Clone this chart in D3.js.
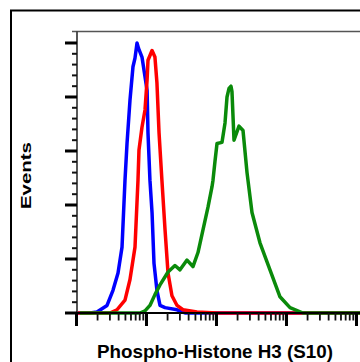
<!DOCTYPE html>
<html><head><meta charset="utf-8">
<script src="https://cdn.jsdelivr.net/npm/d3@7"></script>
<style>body{margin:0;background:#fff}svg{display:block}</style>
</head><body>
<script>
// Histogram data: [fluorescence intensity, events]
const isotypeBlue = [[1.0,0],[1.56,0],[1.96,1],[2.73,7],[3.32,21],[3.92,37],[4.47,61],[4.93,123],[5.27,157],[5.81,197],[6.41,228],[6.85,236],[7.32,250],[7.7,245],[8.62,237],[10.2,206],[10.5,167],[11.2,123],[12.0,93],[12.8,46],[14.1,21],[15.6,7],[18.4,5],[27.3,3],[35.5,0],[100000,0]];
const unstainedRed = [[1.0,0],[3.0,0],[3.79,3],[4.93,12],[5.81,31],[6.85,61],[7.56,123],[7.81,151],[8.62,172],[9.52,188],[10.2,216],[10.5,234],[12.0,243],[13.2,237],[14.1,213],[15.1,167],[16.6,123],[18.4,77],[20.3,37],[23.1,16],[27.3,7],[33.2,3],[52.6,1],[101.7,0],[100000,0]];
const stainedGreen = [[1.12,0],[8.07,0],[9.52,2],[11.2,7],[13.2,17],[15.6,26],[20.3,38],[25.5,44],[30.1,40],[37.9,49],[46.1,43],[54.4,56],[64.1,77],[75.6,98],[86.3,117],[89.1,123],[95,140],[101.7,157],[119.9,158],[132.3,176],[141.3,200],[151,208],[161.1,210],[166.4,205],[177.8,160],[209.6,173],[239.2,169],[272.9,130],[321.4,93],[417.9,65],[580.8,40],[807,15],[1122,5],[1721,0],[100000,0]];
const yMajorTicks = [0,50,100,150,200,250];
const yMinorTicks = d3.range(0,260,10).filter(v => v % 50 !== 0);
const xMajorTicks = [1,10,100,1000,10000,100000];
const xMinorTicks = [];
[1,10,100,1000,10000].forEach(d => { for (let k=2;k<=9;k++) xMinorTicks.push(d*k); });
const xLabel = "Phospho-Histone H3 (S10)";
const yLabel = "Events";

const W = 360, H = 362;
const svg = d3.select("body").append("svg").attr("width", W).attr("height", H);

const x = d3.scaleLog().domain([1, 100000]).range([76.5, 426.5]);
const y = d3.scaleLinear().domain([0, 261.1]).range([313, 31]);

// outer frame
svg.append("path").attr("d", `M11,${H+5}V10.5H${W+5}`).attr("fill","none").attr("stroke","#000").attr("stroke-width",2);

// plot top border
svg.append("line").attr("x1",72).attr("x2",W+5).attr("y1",31.5).attr("y2",31.5).attr("stroke","#555").attr("stroke-width",1.6);

const line = d3.line().x(d => x(d[0])).y(d => y(d[1]));
const series = [[isotypeBlue,"#0000ff"],[unstainedRed,"#ff0000"],[stainedGreen,"#0a8a0a"]];
series.forEach(([data,color]) => {
  svg.append("path").datum(data).attr("d", line).attr("fill","none")
    .attr("stroke", color).attr("stroke-width", 3.5).attr("stroke-linejoin","round");
});

// y axis
const yAx = svg.append("g");
yAx.append("line").attr("x1",77).attr("x2",77).attr("y1",31).attr("y2",313).attr("stroke","#444").attr("stroke-width",1.8);
yAx.selectAll(".ymaj").data(yMajorTicks).join("line")
  .attr("x1",65).attr("x2",77).attr("y1",d=>y(d)).attr("y2",d=>y(d)).attr("stroke","#000").attr("stroke-width",3);
yAx.selectAll(".ymin").data(yMinorTicks).join("line")
  .attr("x1",72).attr("x2",77).attr("y1",d=>y(d)).attr("y2",d=>y(d)).attr("stroke","#111").attr("stroke-width",2);

// x axis
const xAx = svg.append("g");
xAx.append("line").attr("x1",65).attr("x2",W+5).attr("y1",313).attr("y2",313).attr("stroke","#000").attr("stroke-width",2);
xAx.selectAll(".xmaj").data(xMajorTicks).join("line")
  .attr("x1",d=>x(d)).attr("x2",d=>x(d)).attr("y1",313).attr("y2",326).attr("stroke","#000").attr("stroke-width",3);
xAx.selectAll(".xmin").data(xMinorTicks).join("line")
  .attr("x1",d=>x(d)).attr("x2",d=>x(d)).attr("y1",313).attr("y2",320.5).attr("stroke","#111").attr("stroke-width",1.8);

// labels
svg.append("text").text(xLabel).attr("x",215).attr("y",357.5).attr("text-anchor","middle")
  .attr("font-family","'Liberation Sans', Arial, sans-serif").attr("font-weight","bold").attr("font-size",19)
  .attr("textLength",236).attr("lengthAdjust","spacingAndGlyphs").attr("fill","#000");
svg.append("text").text(yLabel).attr("transform","translate(30.5,175.5) rotate(-90)").attr("text-anchor","middle")
  .attr("font-family","'Liberation Sans', Arial, sans-serif").attr("font-weight","bold").attr("font-size",15)
  .attr("textLength",67).attr("lengthAdjust","spacingAndGlyphs").attr("fill","#000");
</script>
</body></html>
